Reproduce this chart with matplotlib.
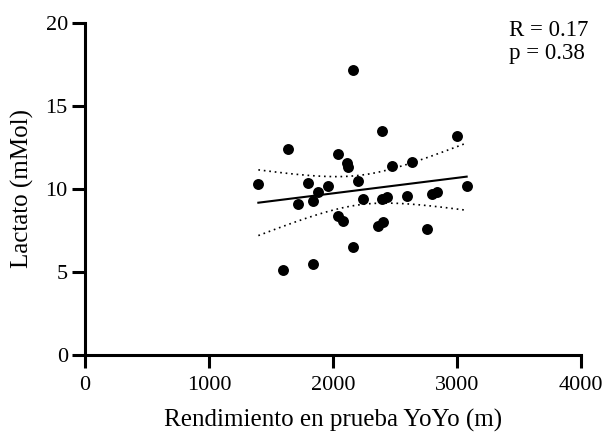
import numpy as np
import matplotlib
matplotlib.use('Agg')
import matplotlib.pyplot as plt

# YoYo test performance (m) vs lactate (mMol)
yoyo = np.array([2159, 2398, 2997, 1640, 2038, 2110, 2122, 2478, 2637, 1398,
                 1798, 1957, 2199, 3078, 1876, 1718, 1839, 2239, 2398, 2438,
                 2599, 2796, 2841, 2038, 2081, 2360, 2400, 2761, 2159, 1839,
                 1599])
lactato = np.array([17.19, 13.51, 13.17, 12.41, 12.08, 11.55, 11.35, 11.40, 11.60, 10.30,
                    10.39, 10.19, 10.49, 10.19, 9.81, 9.09, 9.29, 9.39, 9.39, 9.49,
                    9.59, 9.69, 9.81, 8.40, 8.10, 7.80, 8.02, 7.60, 6.49, 5.49,
                    5.11])
r_text = 'R = 0.17'
p_text = 'p = 0.38'

plt.rcParams['font.family'] = ['Liberation Serif', 'DejaVu Serif']

fig = plt.figure(figsize=(6.05, 4.38), dpi=100)
ax = fig.add_axes([0.1405, 0.1895, 0.8198, 0.758])

ax.scatter(yoyo, lactato, s=62, color='black', zorder=3, linewidths=0)

# linear fit with 95% confidence band
n = len(yoyo)
b, a = np.polyfit(yoyo, lactato, 1)
xx = np.linspace(yoyo.min(), yoyo.max(), 200)
yy = a + b * xx
res = lactato - (a + b * yoyo)
s = np.sqrt(np.sum(res ** 2) / (n - 2))
t = 2.045
se = s * np.sqrt(1.0 / n + (xx - yoyo.mean()) ** 2 / np.sum((yoyo - yoyo.mean()) ** 2))
ax.plot(xx, yy, color='black', lw=1.5, zorder=2)
ax.plot(xx, yy + t * se, color='black', lw=1.2, ls=(0, (1, 2.3)), zorder=2)
ax.plot(xx, yy - t * se, color='black', lw=1.2, ls=(0, (1, 2.3)), zorder=2)

ax.set_xlim(0, 4000)
ax.set_ylim(0, 20)
ax.set_xticks([0, 1000, 2000, 3000, 4000])
ax.set_yticks([0, 5, 10, 15, 20])
ax.spines['top'].set_visible(False)
ax.spines['right'].set_visible(False)
for sp in ['left', 'bottom']:
    ax.spines[sp].set_linewidth(2.2)
ax.tick_params(width=2.2, length=9.4, labelsize=16)
ax.tick_params(axis='x', pad=6)
ax.tick_params(axis='y', pad=3)

ax.set_xlabel('Rendimiento en prueba YoYo (m)', fontsize=18, labelpad=10)
ax.set_ylabel('Lactato (mMol)', fontsize=18, labelpad=8)

ax.text(0.855, 1.009, r_text + '\n' + p_text, transform=ax.transAxes,
        fontsize=16.5, va='top', ha='left', linespacing=1.15)

fig.savefig('out.png', dpi=100)
